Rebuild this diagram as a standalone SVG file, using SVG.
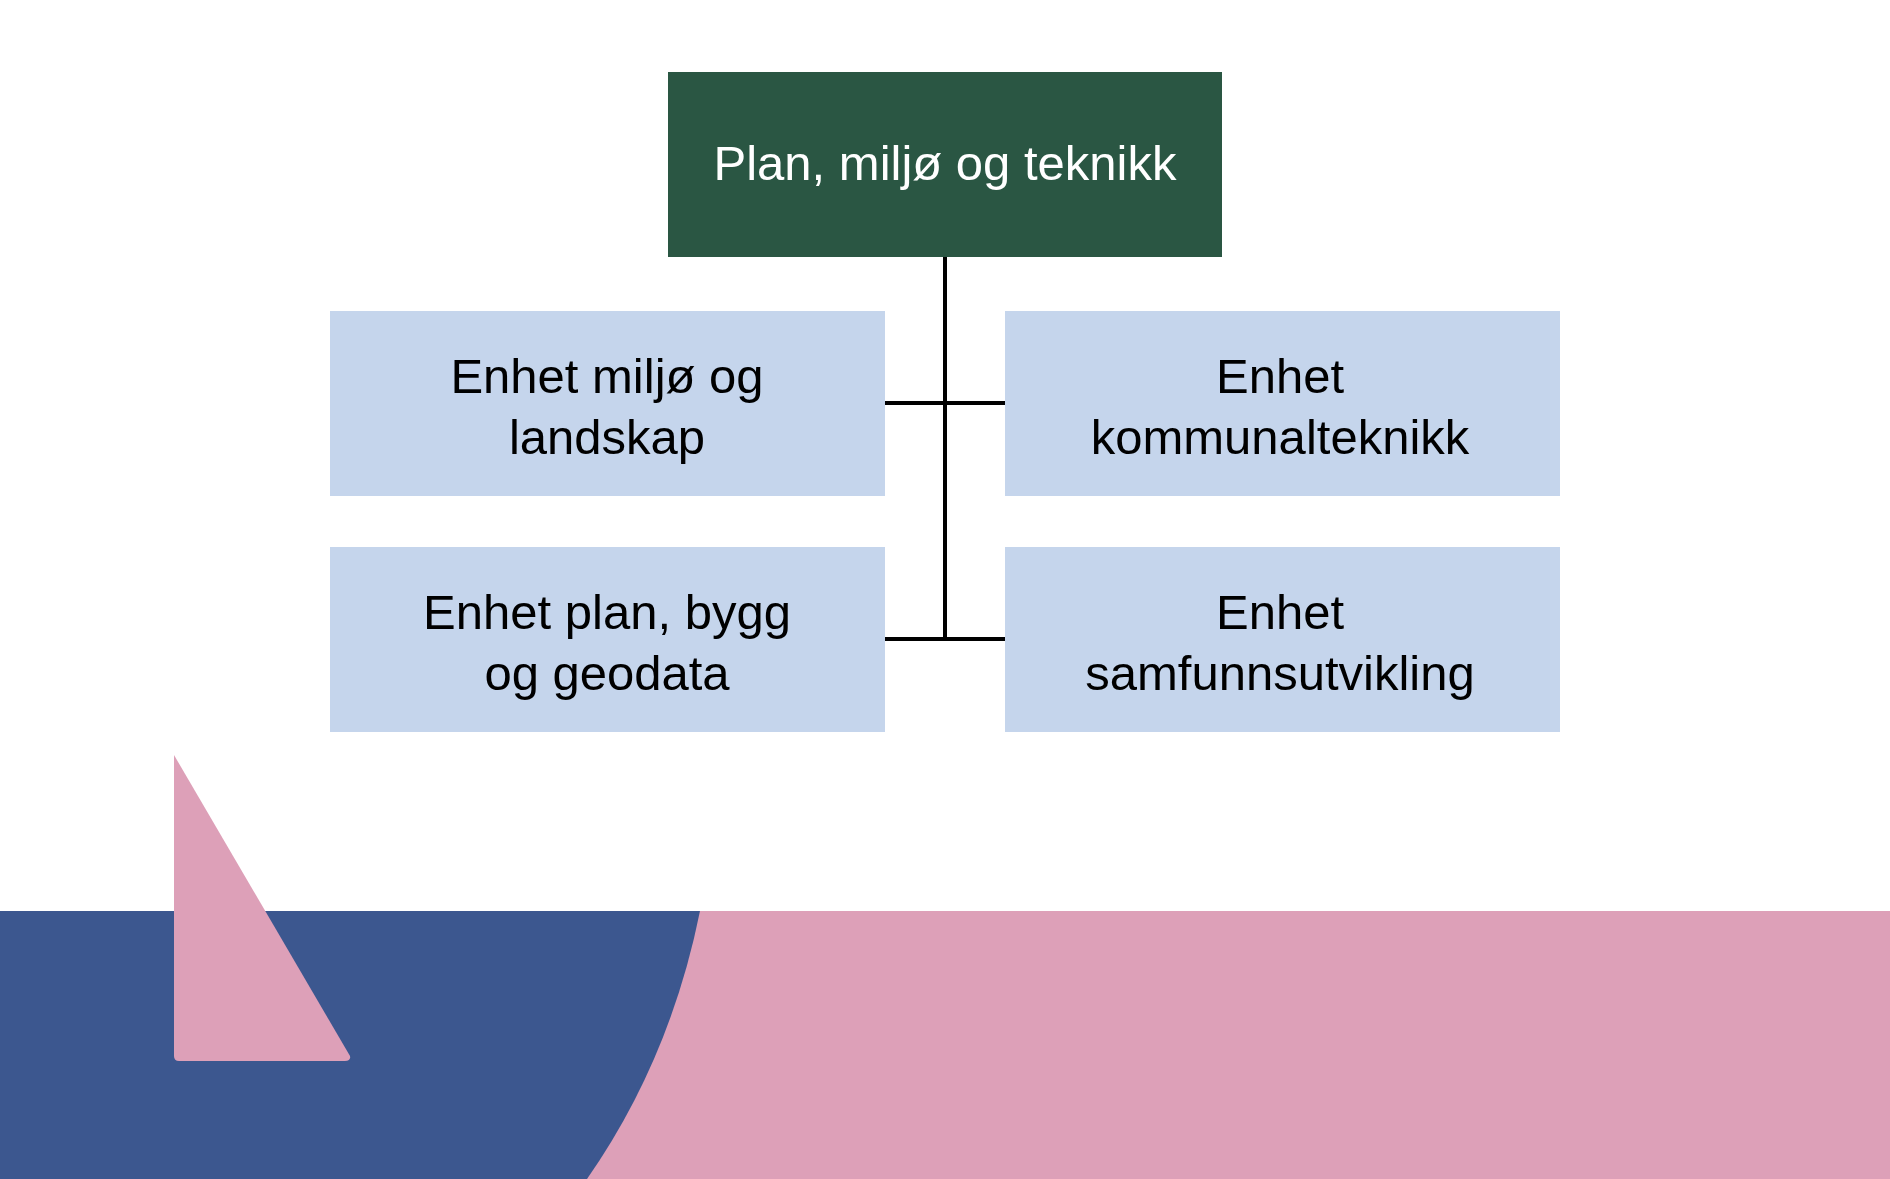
<svg xmlns="http://www.w3.org/2000/svg" width="1890" height="1179" viewBox="0 0 1890 1179">
<style>
.box{fill:#c5d5ec}
.t{font-family:"Liberation Sans",Arial,sans-serif;font-size:49px;fill:#000;text-anchor:middle}
.w{fill:#fff}
.c{stroke:#000;stroke-width:4;fill:none}
</style>
<rect width="1890" height="1179" fill="#fff"/>
<rect x="0" y="911" width="1890" height="268" fill="#dda0b8"/>
<path d="M0 911 H700 Q670 1060 587 1179 H0 Z" fill="#3c578f"/>
<path d="M174 755 L350 1056 Q351 1061 345 1061 L179 1061 Q174 1061 174 1056 Z" fill="#dda0b8"/>
<g id="connectors">
<path class="c" d="M945 257 V639 M885 403 H1005 M885 639 H1005"/>
</g>
<g id="top"><rect x="668" y="72" width="554" height="185" fill="#2a5643"/><text class="t w" x="945" y="180">Plan, miljø og teknikk</text></g>
<g id="n1"><rect class="box" x="330" y="311" width="555" height="185"/><text class="t" x="607" y="393">Enhet miljø og</text><text class="t" x="607" y="454">landskap</text></g>
<g id="n2"><rect class="box" x="1005" y="311" width="555" height="185"/><text class="t" x="1280" y="393">Enhet</text><text class="t" x="1280" y="454">kommunalteknikk</text></g>
<g id="n3"><rect class="box" x="330" y="547" width="555" height="185"/><text class="t" x="607" y="629">Enhet plan, bygg</text><text class="t" x="607" y="690">og geodata</text></g>
<g id="n4"><rect class="box" x="1005" y="547" width="555" height="185"/><text class="t" x="1280" y="629">Enhet</text><text class="t" x="1280" y="690">samfunnsutvikling</text></g>
</svg>
